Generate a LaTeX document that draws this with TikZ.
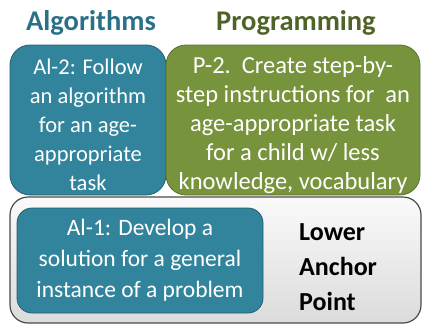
\documentclass[tikz,border=0pt]{standalone}
\usepackage{fontspec}
\setmainfont{Carlito}
\usepackage{xcolor}
\definecolor{CTeal}{HTML}{31849B}
\definecolor{CTealDark}{HTML}{245F70}
\definecolor{CTealTitle}{HTML}{2A7086}
\definecolor{COlive}{HTML}{77933C}
\definecolor{COliveDark}{HTML}{5B7330}
\definecolor{COliveTitle}{HTML}{4F6228}
\definecolor{CFrame}{HTML}{4A4A4A}
\usetikzlibrary{positioning}
\tikzstyle{titleNode}=[font=\fontsize{28.5}{32}\selectfont\bfseries, inner sep=0pt]
\tikzstyle{tealNode}=[rectangle, rounded corners=20pt, draw=CTealDark, fill=CTeal,
  line width=0.8pt, align=center, text=white, inner sep=0pt,
  font=\fontsize{22.5}{29}\selectfont]
\tikzstyle{oliveNode}=[rectangle, rounded corners=20pt, draw=COliveDark, fill=COlive,
  line width=0.8pt, align=center, text=white, inner sep=0pt,
  font=\fontsize{24.5}{29}\selectfont]
\tikzstyle{frameNode}=[rectangle, rounded corners=18pt, draw=CFrame, line width=1.2pt,
  top color=gray!4, bottom color=gray!28, inner sep=0pt]
\begin{document}
\begin{tikzpicture}[x=1pt, y=1pt]
\useasboundingbox (0,0) rectangle (422,325);
% headings
\node[titleNode, text=CTealTitle] (algT) at (91,302) {Algorithms};
\node[titleNode, text=COliveTitle] (progT) at (296,302) {Programming};
% upper row
\node[tealNode, minimum width=156pt, minimum height=150pt] (al2) at (88,205)
  {\rule{0pt}{25pt}Al-2: Follow\\an algorithm\\for an age-\\appropriate\\task};
\node[oliveNode, minimum width=254pt, minimum height=150pt] (p2) at (293,205)
  {\rule{0pt}{27pt}P-2.~~Create step-by-\\step instructions for~~an\\age-appropriate task\\for a child w/ less\\knowledge, vocabulary};
% lower anchor point
\node[frameNode, minimum width=411pt, minimum height=126pt] (low) at (215.5,65) {};
\node[tealNode, rounded corners=15pt, minimum width=246pt, minimum height=105pt,
  font=\fontsize{23.5}{31}\selectfont] (al1) at (140,64.5)
  {Al-1: Develop a\\solution for a general\\instance of a problem};
\node[font=\fontsize{26}{35}\selectfont\bfseries, align=left, anchor=west, inner sep=0pt]
  (anchorT) at (299,58) {Lower\\Anchor\\Point};
\end{tikzpicture}
\end{document}
